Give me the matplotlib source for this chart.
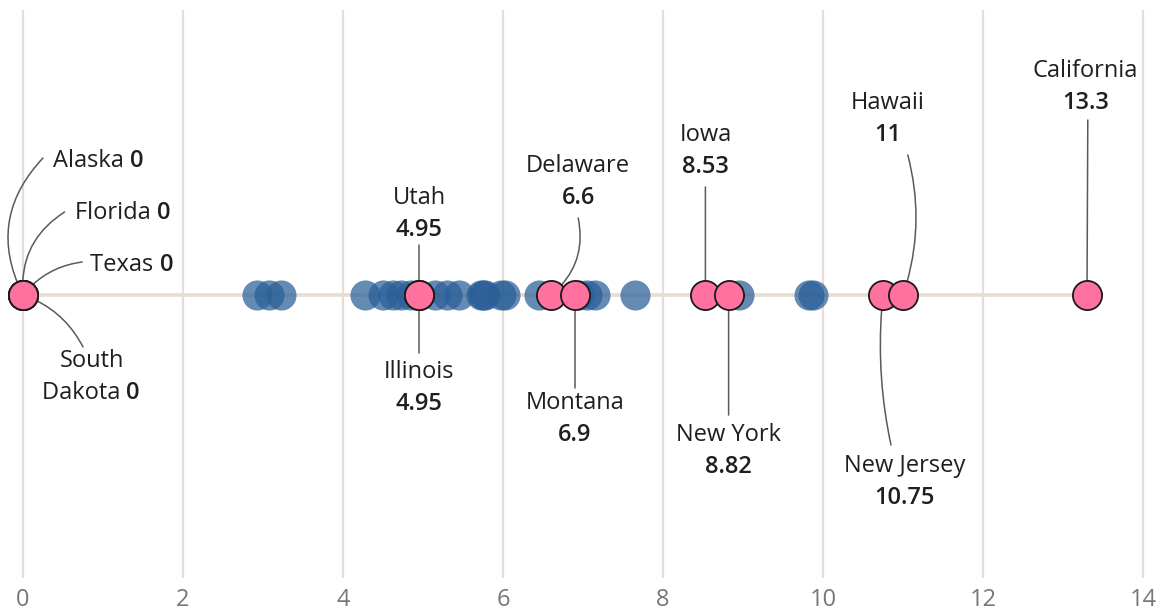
import matplotlib
matplotlib.use("Agg")
import matplotlib.pyplot as plt

# ---- data ----
other_values = [2.93, 3.07, 3.22,
                4.28, 4.50, 4.62, 4.72, 4.85,
                5.15, 5.30, 5.45, 5.72, 5.75, 5.78, 5.98, 6.02,
                6.45, 6.95, 7.05, 7.15, 7.65,
                8.95, 9.82, 9.88]
states = ["Alaska", "Florida", "Texas", "South\nDakota", "Utah", "Illinois",
          "Delaware", "Montana", "Iowa", "New York", "New Jersey", "Hawaii",
          "California"]
state_values = [0, 0, 0, 0, 4.95, 4.95, 6.6, 6.9, 8.53, 8.82, 10.75, 11, 13.3]
value_labels = ["0", "0", "0", "0", "4.95", "4.95", "6.6", "6.9", "8.53",
                "8.82", "10.75", "11", "13.3"]
xticks = [0, 2, 4, 6, 8, 10, 12, 14]

# ---- layout (label placement, in axis units: x data, y pixels above line) ----
layout = {
    "Alaska":       dict(style="inline", tx=0.37, ty=134, cx=0.25, cy=137, rad=0.35),
    "Florida":      dict(style="inline", tx=0.65, ty=82, cx=0.52, cy=83, rad=0.3),
    "Texas":        dict(style="inline", tx=0.84, ty=30, cx=0.74, cy=33, rad=0.2),
    "South\nDakota":dict(style="stack2", tx=0.86, ty=-66, cx=0.75, cy=-52, rad=0.2),
    "Utah":         dict(style="stack", tx=4.95, ty=97, cx=4.95, cy=50, rad=0.0),
    "Illinois":     dict(style="stack", tx=4.95, ty=-77, cx=4.95, cy=-58, rad=0.0),
    "Delaware":     dict(style="stack", tx=6.94, ty=129, cx=6.94, cy=77, rad=-0.3),
    "Montana":      dict(style="stack", tx=6.9, ty=-108, cx=6.9, cy=-93, rad=0.0),
    "Iowa":         dict(style="stack", tx=8.53, ty=160, cx=8.53, cy=108, rad=0.0),
    "New York":     dict(style="stack", tx=8.82, ty=-140, cx=8.82, cy=-120, rad=0.0),
    "New Jersey":   dict(style="stack", tx=11.02, ty=-171, cx=10.85, cy=-150, rad=-0.08),
    "Hawaii":       dict(style="stack", tx=10.81, ty=192, cx=11.06, cy=140, rad=-0.15),
    "California":   dict(style="stack", tx=13.28, ty=224, cx=13.31, cy=175, rad=0.0),
}

FONT = ["Open Sans", "DejaVu Sans"]
plt.rcParams["font.family"] = FONT

fig = plt.figure(figsize=(11.67, 6.10), dpi=100)
ax = fig.add_axes([0, 32 / 610, 1, 568 / 610])
ax.set_xlim(-0.2875, 14.3)
ax.set_ylim(-283, 285)

grid_c = "#e6ddd4"
for t in xticks:
    ax.axvline(t, color=grid_c, lw=1.6, zorder=0)
ax.plot([0, max(state_values)], [0, 0], color=grid_c, lw=2.6, zorder=1,
        solid_capstyle="butt")

ax.scatter(other_values, [0] * len(other_values), s=470, color="#2a5f97",
           alpha=0.72, linewidths=0, zorder=2)
ax.scatter(state_values, [0] * len(state_values), s=440, color="#ff719e",
           edgecolors="#1a1a1a", linewidths=1.3, zorder=4)

txt_c = "#1f1f1f"
fs = 17
numw = "semibold"
for name, val, vl in zip(states, state_values, value_labels):
    L = layout[name]
    ax.annotate("", xy=(val, 0), xytext=(L["cx"], L["cy"]),
                arrowprops=dict(arrowstyle="-", color="#5a5a5a", lw=1.1,
                                shrinkA=0, shrinkB=10,
                                connectionstyle=f"arc3,rad={L['rad']}"),
                zorder=3)
    if L["style"] == "inline":
        t1 = ax.text(L["tx"], L["ty"], name + " ", ha="left", va="center",
                     fontsize=fs, color=txt_c)
        ax.annotate(vl, xycoords=t1, xy=(1, 0.5), va="center", ha="left",
                    fontsize=fs, color=txt_c, fontweight=numw)
    elif L["style"] == "stack2":
        first, second = name.split("\n")
        ax.text(L["tx"], L["ty"], first, ha="center", va="center",
                fontsize=fs, color=txt_c)
        t1 = ax.text(L["tx"] - 0.1, L["ty"] - 32, second + " ", ha="center",
                     va="center", fontsize=fs, color=txt_c)
        ax.annotate(vl, xycoords=t1, xy=(1, 0.5), va="center", ha="left",
                    fontsize=fs, color=txt_c, fontweight=numw)
    else:
        ax.text(L["tx"], L["ty"], name, ha="center", va="center",
                fontsize=fs, color=txt_c)
        ax.text(L["tx"], L["ty"] - 32, vl, ha="center", va="center",
                fontsize=fs, color=txt_c, fontweight=numw)

ax.set_xticks(xticks)
ax.set_xticklabels([str(t) for t in xticks])
ax.tick_params(axis="x", length=0, pad=7, labelsize=17, labelcolor="#777777")
ax.set_yticks([])
for s in ax.spines.values():
    s.set_visible(False)

fig.savefig("out.png", dpi=100)
